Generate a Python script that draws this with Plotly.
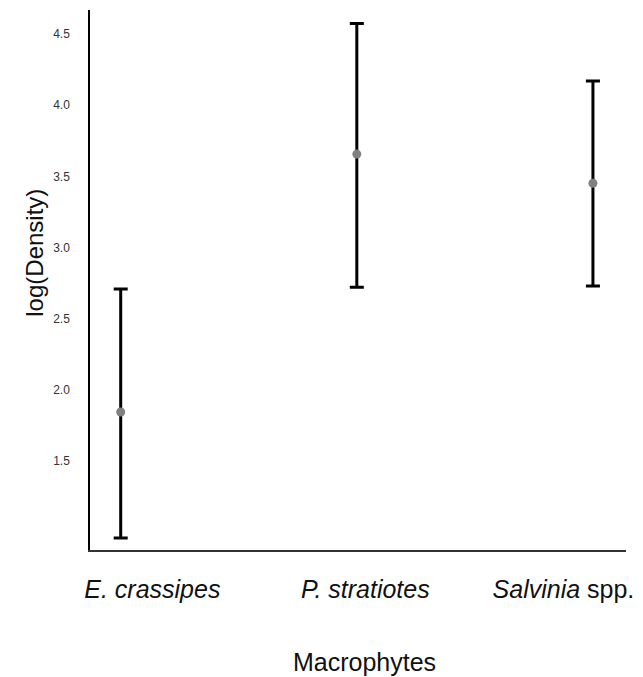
import plotly.graph_objects as go

categories = ["E. crassipes", "P. stratiotes", "Salvinia spp."]
tick_text = ["<i>E. crassipes</i>", "<i>P. stratiotes</i>", "<i>Salvinia</i> spp."]
means = [1.845, 3.657, 3.452]
upper = [2.709, 4.575, 4.170]
lower = [0.961, 2.721, 2.730]
y_ticks = [1.5, 2.0, 2.5, 3.0, 3.5, 4.0, 4.5]
y_tick_text = ["1.5", "2.0", "2.5", "3.0", "3.5", "4.0", "4.5"]

# layout constants (category index positions and label offsets)
x_idx = list(range(len(categories)))
label_pos = [0.134, 1.036, 1.875]

err_plus = [u - m for u, m in zip(upper, means)]
err_minus = [m - l for m, l in zip(means, lower)]

W, H = 643, 677
L, T = 90, 10
PW, PH = 543, 540

fig = go.Figure()
fig.add_trace(go.Scatter(
    x=x_idx, y=means, mode="markers",
    marker=dict(color="#808080", size=9),
    error_y=dict(type="data", symmetric=False, array=err_plus, arrayminus=err_minus,
                 color="black", thickness=3, width=7),
    hoverinfo="skip", showlegend=False,
))

fig.update_layout(
    width=W, height=H,
    margin=dict(l=L, r=W - L - PW, t=T, b=H - T - PH),
    paper_bgcolor="white", plot_bgcolor="white",
    font=dict(family="Liberation Sans, Arial, sans-serif"),
    xaxis=dict(range=[-0.13, 2.14], tickvals=label_pos, ticktext=tick_text,
               showgrid=False, zeroline=False, showline=True, linecolor="#333333",
               linewidth=2, ticks="", ticklabelstandoff=16,
               tickfont=dict(size=25, color="#111111")),
    yaxis=dict(range=[0.876, 4.669], tickvals=y_ticks, ticktext=y_tick_text,
               showgrid=False, zeroline=False, showline=True, linecolor="black",
               linewidth=1.5, ticks="", ticklabelstandoff=16,
               tickfont=dict(size=12, color="#333333")),
    annotations=[
        dict(text="Macrophytes", xref="paper", yref="paper", x=(368 - L) / PW, y=-(662 - 550) / PH,
             xanchor="center", yanchor="middle", showarrow=False,
             font=dict(size=25, color="#111111")),
        dict(text="log(Density)", xref="paper", yref="paper", x=-(L - 34) / PW, y=(550 - 253) / PH,
             xanchor="center", yanchor="middle", textangle=-90, showarrow=False,
             font=dict(size=24, color="#111111")),
    ],
)

fig.write_html("out.html", config={"displayModeBar": False},
               post_script="document.body.style.margin='0';document.body.style.overflow='hidden';")
